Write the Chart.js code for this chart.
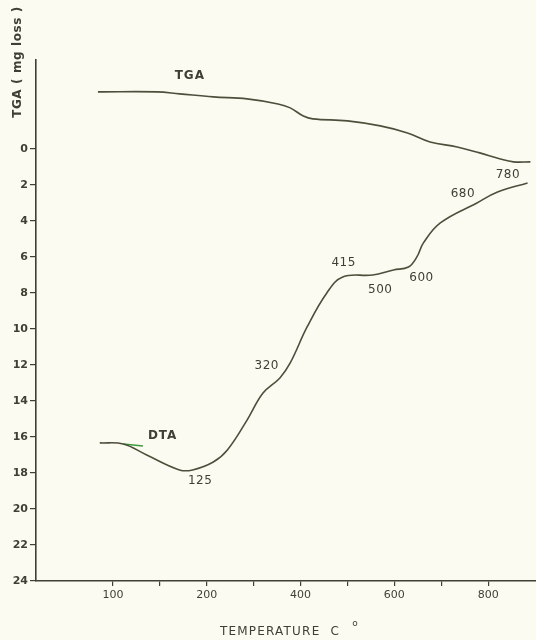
<!DOCTYPE html>
<html>
<head>
<meta charset="utf-8">
<script src="https://cdn.jsdelivr.net/npm/chart.js@4.4.1/dist/chart.umd.min.js"></script>
<style>
    html, body { margin: 0; padding: 0; background: #fbfbf1; }
    #wrap { width: 536px; height: 640px; }
</style>
</head>
<body>
<div id="wrap"><canvas id="chart_tga_dta"></canvas></div>
<script>
// x is in axis steps: 1 = "100", 2 = "200", 3 = "400", 4 = "600", 5 = "800" (the printed axis is not linear)
const tickLabels = ['100', '200', '400', '600', '800'];
const tickSteps = [1, 1.5, 2, 2.5, 3, 3.5, 4, 4.5, 5];

const tgaX = [0.84, 1.47, 1.71, 2.07, 2.43, 2.76, 2.89, 3.03, 3.13, 3.50, 3.85, 4.14, 4.38, 4.67, 4.91, 5.13, 5.27, 5.45];
const tgaY = [-3.17, -3.17, -3.06, -2.89, -2.78, -2.50, -2.28, -1.83, -1.67, -1.56, -1.28, -0.89, -0.39, -0.11, 0.22, 0.56, 0.72, 0.72];

const dtaX = [0.86, 1.11, 1.36, 1.71, 1.85, 2.07, 2.22, 2.43, 2.60, 2.78, 2.89, 3.07, 3.28, 3.45, 3.77, 3.99, 4.15, 4.24, 4.31, 4.49, 4.88, 5.10, 5.42];
const dtaY = [16.33, 16.39, 17.00, 17.83, 17.83, 17.39, 16.72, 15.06, 13.56, 12.72, 11.89, 9.89, 8.00, 7.11, 7.00, 6.72, 6.56, 6.00, 5.22, 4.11, 3.00, 2.39, 1.89];

const markX = [1.11, 1.32];
const markY = [16.39, 16.50];

const noteTexts = ['TGA', 'DTA', '125', '320', '415', '500', '600', '680', '780'];
const noteX = [1.82, 1.53, 1.93, 2.64, 3.46, 3.85, 4.29, 4.73, 5.21];
const noteY = [-4.06, 15.94, 18.44, 12.06, 6.33, 7.83, 7.17, 2.50, 1.44];

const ink = '#3f3f33';
const lineInk = '#4e4e3c';

function toPoints(xs, ys) {
    return xs.map((x, i) => ({ x: x, y: ys[i] }));
}

const paperPlugin = {
    id: 'paper',
    beforeDraw(chart) {
        const ctx = chart.ctx;
        ctx.save();
        ctx.fillStyle = '#fbfbf1';
        ctx.fillRect(0, 0, chart.width, chart.height);
        ctx.restore();
    },
    afterDraw(chart) {
        const ctx = chart.ctx;
        const xs = chart.scales.x;
        const ys = chart.scales.y;
        ctx.save();
        ctx.fillStyle = ink;
        ctx.textAlign = 'center';
        ctx.textBaseline = 'middle';

        noteTexts.forEach((t, i) => {
            const label = (t === 'TGA' || t === 'DTA');
            ctx.font = label ? 'bold 12px "DejaVu Sans"' : '12px "DejaVu Sans"';
            ctx.letterSpacing = label ? '1px' : '0.5px';
            ctx.fillText(t, xs.getPixelForValue(noteX[i]), ys.getPixelForValue(noteY[i]));
        });

        // axis titles
        ctx.font = '12px "DejaVu Sans"';
        ctx.letterSpacing = '1.2px';
        ctx.fillText('TEMPERATURE  C', 280, 632);
        ctx.letterSpacing = '0px';
        ctx.font = '9px "DejaVu Sans"';
        ctx.fillText('o', 355, 624);

        ctx.translate(18, 62);
        ctx.rotate(-Math.PI / 2);
        ctx.font = 'bold 12px "DejaVu Sans"';
        ctx.letterSpacing = '0.6px';
        ctx.fillText('TGA ( mg loss )', 0, 0);
        ctx.restore();
    }
};

new Chart(document.querySelector('#chart_tga_dta'), {
    type: 'scatter',
    data: {
        datasets: [
            {
                label: 'TGA',
                data: toPoints(tgaX, tgaY),
                showLine: true,
                borderColor: lineInk,
                borderWidth: 1.6,
                pointRadius: 0,
                tension: 0.4
            },
            {
                label: 'DTA',
                data: toPoints(dtaX, dtaY),
                showLine: true,
                borderColor: lineInk,
                borderWidth: 1.6,
                pointRadius: 0,
                tension: 0.4
            },
            {
                label: 'DTA mark',
                data: toPoints(markX, markY),
                showLine: true,
                borderColor: '#3c9a3c',
                borderWidth: 1.6,
                pointRadius: 0
            }
        ]
    },
    options: {
        responsive: true,
        maintainAspectRatio: false,
        animation: false,
        layout: { padding: { top: 60, right: 0, bottom: 0, left: 0 } },
        plugins: {
            legend: { display: false },
            tooltip: { enabled: false }
        },
        scales: {
            x: {
                type: 'linear',
                min: 0.18,
                max: 5.51,
                afterBuildTicks: scale => { scale.ticks = tickSteps.map(v => ({ value: v })); },
                afterFit: scale => { scale.height = 59; },
                border: { display: true, color: ink, width: 1.6 },
                grid: { drawOnChartArea: false, color: ink, tickLength: 5, lineWidth: 1.2 },
                ticks: {
                    autoSkip: false,
                    maxRotation: 0,
                    padding: 3,
                    color: ink,
                    font: { family: 'DejaVu Sans', size: 11 },
                    callback: v => Number.isInteger(v) ? tickLabels[v - 1] : ''
                }
            },
            y: {
                type: 'linear',
                reverse: true,
                min: -4.94,
                max: 24,
                afterBuildTicks: scale => {
                    const t = [];
                    for (let v = 0; v <= 24; v += 2) t.push({ value: v });
                    scale.ticks = t;
                },
                afterFit: scale => { scale.width = 36; },
                border: { display: true, color: ink, width: 1.6 },
                grid: { drawOnChartArea: false, color: ink, tickLength: 6, lineWidth: 1.2 },
                ticks: {
                    padding: 2,
                    color: ink,
                    font: { family: 'DejaVu Sans', size: 11, weight: 'bold' }
                }
            }
        }
    },
    plugins: [paperPlugin]
});
</script>
</body>
</html>
